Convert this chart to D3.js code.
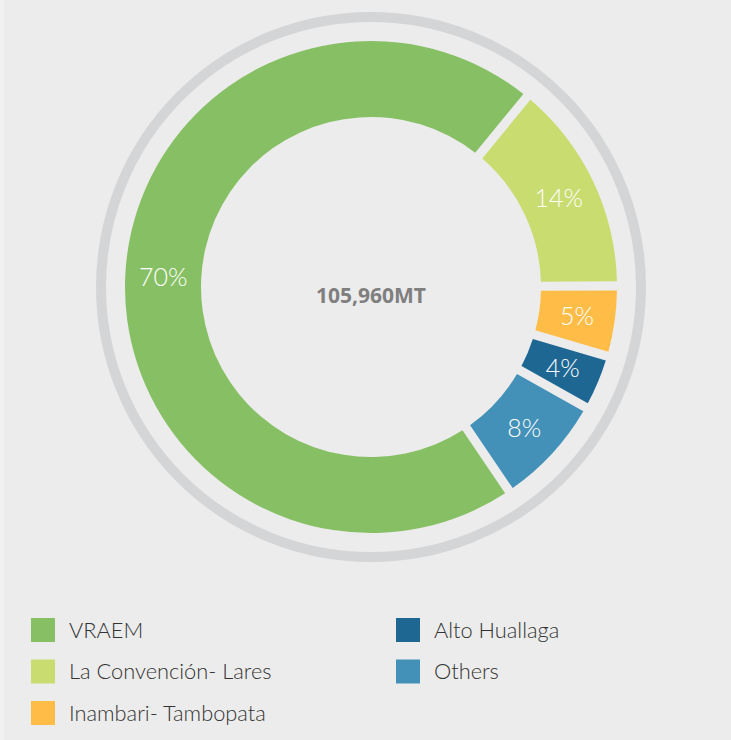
<!DOCTYPE html>
<html>
<head>
<meta charset="utf-8">
<script src="https://cdn.jsdelivr.net/npm/d3@7"></script>
<style>
  html, body { margin: 0; padding: 0; background: #ececec; }
  svg { display: block; }
</style>
</head>
<body>
<script>
// ---- data ----
const categories = ["VRAEM", "La Convención- Lares", "Inambari- Tambopata", "Alto Huallaga", "Others"];
const shares = [70.4, 14.0, 4.6, 3.6, 7.4];
const labels = ["70%", "14%", "5%", "4%", "8%"];
const colors = ["#87c064", "#c8dc70", "#ffbd48", "#1f6793", "#4391b8"];
const totalLabel = "105,960MT";

// ---- layout ----
const W = 731, H = 740;
const cx = 371, cy = 287;
const rOuter = 246, rInner = 170, ringR = 270;

const svg = d3.select("body").append("svg").attr("width", W).attr("height", H);
svg.append("rect").attr("width", W).attr("height", H).attr("fill", "#ececec");
svg.append("rect").attr("x", 0).attr("y", 0).attr("width", 4).attr("height", H).attr("fill", "#f1f1f1");

const g = svg.append("g").attr("transform", `translate(${cx},${cy})`);

// outer decorative ring
g.append("circle").attr("r", ringR).attr("fill", "none")
  .attr("stroke", "#d4d5d7").attr("stroke-width", 10);

const start = 145.9 * Math.PI / 180;
const pie = d3.pie().sort(null).value(d => d).startAngle(start).endAngle(start + 2 * Math.PI);
const arcs = pie(shares);
const arc = d3.arc().innerRadius(rInner).outerRadius(rOuter).padRadius(208).padAngle(0.044);
const labelArc = d3.arc().innerRadius(rInner).outerRadius(rOuter);

g.selectAll("path.slice").data(arcs).enter().append("path")
  .attr("class", "slice")
  .attr("d", arc)
  .attr("fill", (d, i) => colors[i]);

g.selectAll("text.pct").data(arcs).enter().append("text")
  .attr("class", "pct")
  .attr("transform", d => `translate(${labelArc.centroid(d)})`)
  .attr("text-anchor", "middle")
  .attr("dy", "0.36em")
  .attr("font-family", "Lato, 'Open Sans', sans-serif")
  .attr("font-weight", 300)
  .attr("font-size", 25)
  .attr("fill", "#ffffff")
  .text((d, i) => labels[i]);

g.append("text")
  .attr("text-anchor", "middle")
  .attr("y", 16)
  .attr("font-family", "'Open Sans', sans-serif")
  .attr("font-weight", 700)
  .attr("font-size", 21)
  .attr("fill", "#7f7f7f")
  .text(totalLabel);

// ---- legend ----
const legend = svg.append("g");
const items = legend.selectAll("g.item").data(categories).enter().append("g")
  .attr("class", "item")
  .attr("transform", (d, i) => {
    const col = i < 3 ? 0 : 1;
    const row = i < 3 ? i : i - 3;
    return `translate(${col === 0 ? 31 : 396},${618 + row * 41.5})`;
  });
items.append("rect").attr("width", 24).attr("height", 24).attr("fill", (d, i) => colors[i]);
items.append("text")
  .attr("x", 38).attr("y", 19.5)
  .attr("font-family", "Lato, 'Open Sans', sans-serif")
  .attr("font-weight", 300)
  .attr("font-size", 21.8)
  .attr("fill", "#333333")
  .text(d => d);
</script>
</body>
</html>
